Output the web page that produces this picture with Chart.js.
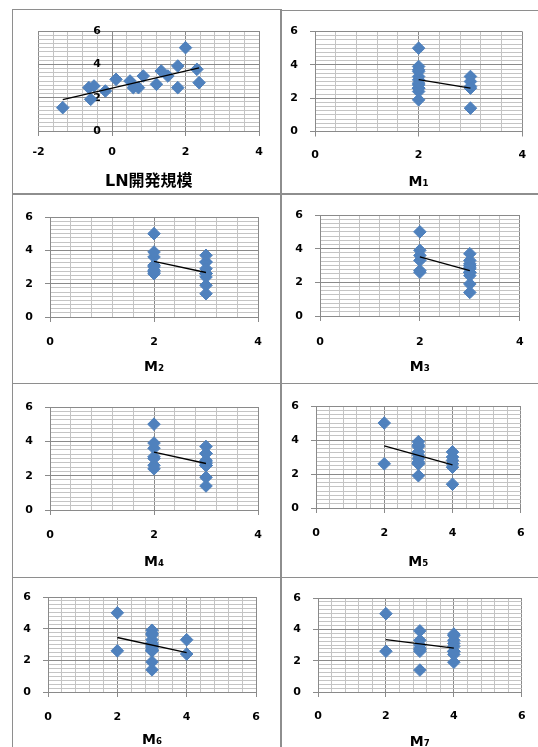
<!DOCTYPE html>
<html lang="ja">
<head>
<meta charset="utf-8">
<title>品質スコアと各要因の散布図</title>
<script src="https://cdn.jsdelivr.net/npm/chart.js@4.4.1/dist/chart.umd.min.js"></script>
<style>
  html, body { margin: 0; padding: 0; background: #fff; overflow: hidden; }
  #board { position: relative; width: 538px; height: 747px; overflow: hidden; }
  .cell { position: absolute; }
  .cell canvas { display: block; }
  .rule { position: absolute; background: #8e8e8e; }
</style>
</head>
<body>
<div id="board"></div>
<script>
// Quality score of each project (vertical axis of every panel)
const quality   = [1.4, 2.6, 2.7, 1.9, 2.4, 3.1, 3.0, 2.6, 2.6, 3.3, 2.8, 3.6, 3.3, 3.9, 2.6, 5.0, 3.7, 2.9];
// LN of development scale, same project order
const lnDevScale = [-1.34, -0.63, -0.49, -0.58, -0.18, 0.11, 0.49, 0.58, 0.72, 0.85, 1.21, 1.34, 1.52, 1.79, 1.79, 2.0, 2.31, 2.37];
// Ordinal factor levels M1..M7, same project order
const m1 = [3, 2, 3, 2, 2, 2, 3, 3, 2, 2, 2, 2, 3, 2, 2, 2, 2, 2];
const m2 = [3, 2, 2, 3, 3, 2, 2, 3, 3, 3, 2, 2, 3, 2, 3, 2, 3, 3];
const m3 = [3, 2, 2, 3, 3, 3, 3, 3, 3, 2, 3, 2, 3, 2, 3, 2, 3, 3];
const m4 = [3, 2, 3, 3, 2, 2, 2, 3, 3, 3, 3, 2, 3, 2, 3, 2, 3, 3];
const m5 = [4, 2, 3, 3, 4, 3, 4, 3, 4, 4, 4, 3, 3, 3, 3, 2, 3, 3];
const m6 = [3, 2, 3, 3, 4, 3, 3, 3, 3, 4, 3, 3, 3, 3, 3, 2, 3, 3];
const m7 = [3, 2, 3, 4, 4, 4, 3, 3, 4, 3, 3, 4, 4, 3, 4, 2, 4, 4];

// Axis titles and ranges
const axisTitles = ['LN開発規模', 'M₁', 'M₂', 'M₃', 'M₄', 'M₅', 'M₆', 'M₇'];
const xRanges = [[-2, 4], [0, 4], [0, 4], [0, 4], [0, 4], [0, 6], [0, 6], [0, 6]];
const yRange = [0, 6];
const labelStep = 2;      // labelled (major) grid step on both axes
const xMinorStep = 0.4;   // minor vertical grid step
const yMinorStep = 0.25;  // minor horizontal grid step

const xSeries = [lnDevScale, m1, m2, m3, m4, m5, m6, m7];

// Panel geometry: cell = [left, top, width, height]; plot = [left, top, right, bottom] (page px)
const panelLayout = [
  { cell: [13, 10, 267, 183],  plot: [38.5, 31, 259, 131],  tickGap: 21,   titleGap: 51,   yPad: 6.5, yAtZero: true, titleSize: 16 },
  { cell: [282, 11, 256, 182], plot: [315, 31.5, 527, 131.5], tickGap: 23.5, titleGap: 50.5, yPad: 12 },
  { cell: [13, 195, 267, 187], plot: [50, 217, 258, 317],   tickGap: 25,   titleGap: 50,   yPad: 12 },
  { cell: [282, 195, 256, 187], plot: [320, 215, 526, 316], tickGap: 26,   titleGap: 51,   yPad: 12 },
  { cell: [13, 384, 267, 192], plot: [50, 407, 258, 510],   tickGap: 25,   titleGap: 52,   yPad: 12 },
  { cell: [282, 384, 256, 192], plot: [316, 406, 526, 508], tickGap: 25,   titleGap: 54,   yPad: 12 },
  { cell: [13, 578, 267, 185], plot: [48, 597, 256, 692],   tickGap: 25,   titleGap: 48,   yPad: 12 },
  { cell: [282, 578, 256, 185], plot: [318, 598, 528, 692], tickGap: 24,   titleGap: 50,   yPad: 12 }
];

// Frame rules between the panels: [left, top, width, height]
const rules = [
  [12, 9, 269, 1], [281, 10, 257, 1],
  [12, 9, 1, 738], [280, 9, 1.5, 738],
  [12, 193, 526, 1.5], [12, 383, 526, 1], [12, 577, 526, 1]
];

const MARKER = '#4F81BD';
const MAJOR_GRID = '#8a8a8a';
const MINOR_GRID = '#c4c4c4';
const FAMILY = "'DejaVu Sans', 'Noto Sans CJK JP', sans-serif";
const TICK_FONT = { family: FAMILY, size: 11, weight: 'bold' };

const board = document.getElementById('board');
rules.forEach(([l, t, w, h]) => {
  const d = document.createElement('div');
  d.className = 'rule';
  Object.assign(d.style, { left: l + 'px', top: t + 'px', width: w + 'px', height: h + 'px' });
  board.appendChild(d);
});

const isLabelled = v => Math.abs(v / labelStep - Math.round(v / labelStep)) < 1e-6;

function gridValues(min, max, step) {
  const n = Math.round((max - min) / step);
  const out = [];
  for (let k = 0; k <= n; k++) out.push(Math.round((min + k * step) * 1000) / 1000);
  return out;
}

// Least-squares trend line across the observed x range
function trendLine(xs, ys) {
  const n = xs.length;
  const mx = xs.reduce((a, b) => a + b, 0) / n;
  const my = ys.reduce((a, b) => a + b, 0) / n;
  let sxy = 0, sxx = 0;
  for (let i = 0; i < n; i++) { sxy += (xs[i] - mx) * (ys[i] - my); sxx += (xs[i] - mx) ** 2; }
  const slope = sxy / sxx;
  const x0 = Math.min(...xs), x1 = Math.max(...xs);
  return [{ x: x0, y: my + slope * (x0 - mx) }, { x: x1, y: my + slope * (x1 - mx) }];
}

function axisCommon(min, max, step) {
  return {
    type: 'linear', min, max,
    afterBuildTicks: s => { s.ticks = gridValues(min, max, step).map(v => ({ value: v })); },
    grid: {
      color: c => (c.tick && isLabelled(c.tick.value)) ? MAJOR_GRID : MINOR_GRID,
      tickColor: c => (c.tick && isLabelled(c.tick.value)) ? MAJOR_GRID : 'rgba(0,0,0,0)',
      lineWidth: 1, tickLength: 5, drawTicks: true
    },
    border: { display: true, color: MAJOR_GRID, width: 1 },
    ticks: {
      autoSkip: false, maxRotation: 0, color: '#000', font: TICK_FONT,
      callback: v => isLabelled(v) ? String(Math.round(v)) : ''
    }
  };
}

panelLayout.forEach((p, i) => {
  const [cx, cy, cw, ch] = p.cell;
  const plotL = p.plot[0] - cx, plotT = p.plot[1] - cy, plotR = p.plot[2] - cx, plotB = p.plot[3] - cy;
  const titleFont = { family: FAMILY, size: p.titleSize || 14, weight: 'bold', lineHeight: 1 };
  const xBoxBottom = plotB + p.titleGap + titleFont.size / 2;
  const canvasH = Math.max(ch, Math.ceil(xBoxBottom) + 2);
  const xHeight = xBoxBottom - plotB;

  const cell = document.createElement('div');
  cell.className = 'cell';
  Object.assign(cell.style, { left: cx + 'px', top: cy + 'px', width: cw + 'px', height: canvasH + 'px' });
  const canvas = document.createElement('canvas');
  canvas.width = cw; canvas.height = canvasH;
  cell.appendChild(canvas);
  board.appendChild(cell);

  const xs = xSeries[i];
  const points = xs.map((x, k) => ({ x, y: quality[k] }));
  const [xMin, xMax] = xRanges[i];

  const xAxis = axisCommon(xMin, xMax, xMinorStep);
  xAxis.position = 'bottom';
  xAxis.afterFit = s => { s.height = xHeight; };
  xAxis.ticks.padding = p.tickGap - 5 - TICK_FONT.size * 1.2 / 2;
  xAxis.title = { display: true, text: axisTitles[i], color: '#000', font: titleFont, padding: 0 };

  const yAxis = axisCommon(yRange[0], yRange[1], yMinorStep);
  if (p.yAtZero) {
    // vertical axis crosses at x = 0; labels sit left of it with a fixed gap
    yAxis.position = { x: 0 };
    yAxis.ticks.callback = v => isLabelled(v) ? String(Math.round(v)) + '\u2002\u2002' : '';
  } else {
    yAxis.position = 'left';
    yAxis.ticks.padding = p.yPad;
    yAxis.afterFit = s => { s.width = plotL; };
  }

  new Chart(canvas, {
    type: 'scatter',
    data: {
      datasets: [
        { type: 'line', data: trendLine(xs, quality), borderColor: '#000', borderWidth: 1.3,
          pointRadius: 0, fill: false, order: 0 },
        { data: points, pointStyle: 'rectRot', pointRadius: 6.3, pointHoverRadius: 6.3,
          backgroundColor: MARKER, borderColor: MARKER, borderWidth: 1, order: 1 }
      ]
    },
    options: {
      responsive: false, animation: false, devicePixelRatio: 1,
      layout: { padding: { left: p.yAtZero ? plotL : 0, top: plotT, right: cw - plotR, bottom: canvasH - xBoxBottom } },
      plugins: { legend: { display: false }, tooltip: { enabled: false } },
      scales: { x: xAxis, y: yAxis }
    }
  });
});
</script>
</body>
</html>
